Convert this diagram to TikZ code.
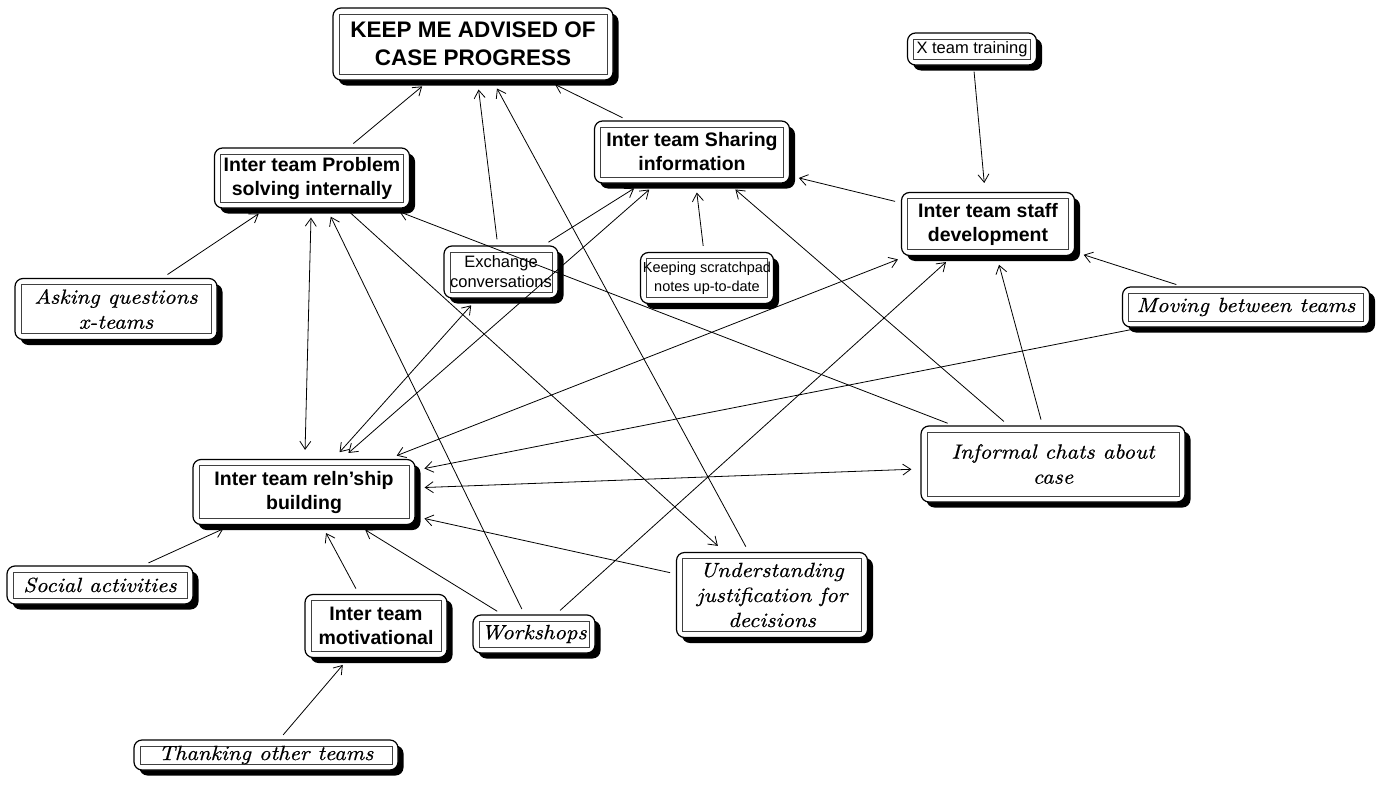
\documentclass[tikz,border=0pt]{standalone}
\usepackage{fontspec}
\setmainfont{Liberation Sans}
\newfontfamily\handfont{lmroman10-italic}[Extension=.otf, FakeStretch=1.1, FakeBold=0.6]
\usetikzlibrary{arrows.meta,shadows}

\begin{document}
\begin{tikzpicture}[x=1pt,y=-1pt,
  box/.style={draw, line width=1.2pt, rounded corners=8pt, fill=white, inner sep=0pt, align=center,
    drop shadow={shadow xshift=5.5pt, shadow yshift=-5.5pt, opacity=1, fill=black},
    path picture={\draw[line width=0.7pt, black!75, sharp corners]
      ([shift={(6pt,-6pt)}]path picture bounding box.north west) rectangle
      ([shift={(-6pt,6pt)}]path picture bounding box.south east);}},
  bhead/.style={box, font=\bfseries\fontsize{19.5}{24}\selectfont},
  plain/.style={box, font=\fontsize{16.5}{20}\selectfont},
  hand/.style={box, font=\handfont\fontsize{20.5}{25}\selectfont},
  link/.style={line width=0.8pt, -{Straight Barb[length=8pt,width=11pt]}, shorten >=9pt, shorten <=6pt},
  both/.style={line width=0.8pt, {Straight Barb[length=8pt,width=11pt]}-{Straight Barb[length=8pt,width=11pt]}, shorten >=9pt, shorten <=9pt}
]
\useasboundingbox (0,0) rectangle (1394,787);

% central goal
\node[box, minimum width=280pt, minimum height=72pt, font=\bfseries\fontsize{22.5}{28}\selectfont]
  (keep) at (473,44) {KEEP ME ADVISED OF\\CASE PROGRESS};

% bold team concepts
\node[bhead, minimum width=195pt, minimum height=60pt] (prob) at (312,178) {Inter team Problem\\solving internally};
\node[bhead, minimum width=195pt, minimum height=62pt] (share) at (692,152) {Inter team Sharing\\information};
\node[bhead, minimum width=173pt, minimum height=63pt] (staff) at (988,224) {Inter team staff\\development};
\node[bhead, minimum width=222pt, minimum height=65pt] (reln) at (304,492) {Inter team reln'ship\\building};
\node[bhead, minimum width=142pt, minimum height=63pt] (motiv) at (376,626) {Inter team\\motivational};

% plain concepts
\node[plain, minimum width=129pt, minimum height=32pt] (xtrain) at (972,49) {X team training};
\node[plain, minimum width=114pt, minimum height=52pt] (exch) at (501,272) {Exchange\\conversations};
\node[plain, minimum width=133pt, minimum height=51pt, font=\fontsize{14.5}{19}\selectfont] (scratch) at (707,278) {Keeping scratchpad\\notes up-to-date};

% handwritten concepts
\node[hand, minimum width=202pt, minimum height=61pt] (asking) at (116,309) {Asking questions\\x-teams};
\node[hand, minimum width=247pt, minimum height=40pt] (moving) at (1246,307) {Moving between teams};
\node[hand, minimum width=264pt, minimum height=76pt] (inform) at (1053,464) {Informal chats about\\case};
\node[hand, minimum width=186pt, minimum height=38pt] (social) at (100,585) {Social activities};
\node[hand, minimum width=122pt, minimum height=38pt] (work) at (534,634) {Workshops};
\node[hand, minimum width=191pt, minimum height=85pt] (under) at (772,595) {Understanding\\justification for\\decisions};
\node[hand, minimum width=264pt, minimum height=30pt] (thank) at (266,755) {Thanking other teams};

% links
\draw[link] (prob) -- (keep);
\draw[link] (exch) -- (keep);
\draw[link] (under) -- (keep);
\draw[link] (share) -- (keep);
\draw[link] (xtrain) -- (staff);
\draw[link] (staff) -- (share);
\draw[link] (scratch) -- (share);
\draw[link] (exch) -- (share);
\draw[link] (inform) -- (share);
\draw[link] (moving) -- (staff);
\draw[link] (inform) -- (staff);
\draw[link] (work) -- (staff);
\draw[link] (asking) -- (prob);
\draw[link] (inform) -- (prob);
\draw[link] (work) -- (prob);
\draw[link] (prob) -- (under);
\draw[both] (prob) -- (reln);
\draw[both] (exch) -- (reln);
\draw[both] (share) -- (reln);
\draw[both] (staff) -- (reln);
\draw[both] (inform) -- (reln);
\draw[link] (moving) -- (reln);
\draw[link] (under) -- (reln);
\draw[link] (social) -- (reln);
\draw[link] (motiv) -- (reln);
\draw[link] (work) -- (reln);
\draw[link] (thank) -- (motiv);
\end{tikzpicture}
\end{document}
